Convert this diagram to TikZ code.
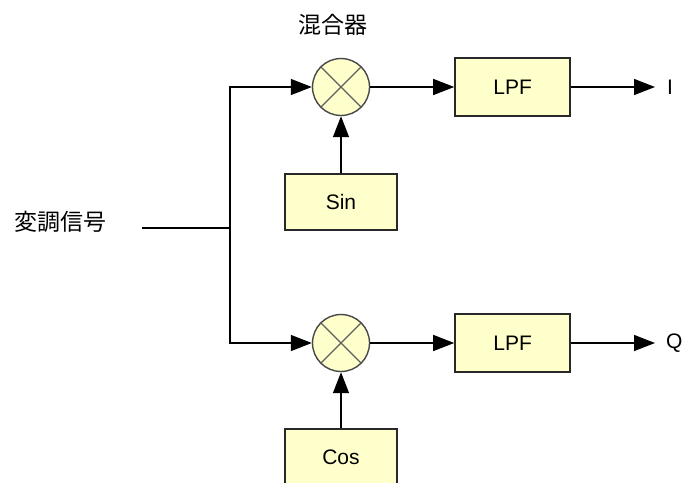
\documentclass[tikz,border=0pt]{standalone}
\usepackage{fontspec}
\setmainfont{Liberation Sans}
\newfontfamily\cjk{Noto Sans CJK JP}
\usepackage{tikz}
\usetikzlibrary{arrows.meta,positioning}
\usepackage{xcolor}
\definecolor{boxfill}{RGB}{255,255,204}
\definecolor{boxline}{RGB}{40,40,40}

\begin{document}
\begin{tikzpicture}[x=1pt, y=-1pt, >={Triangle[length=21pt,width=16pt]},
  blk/.style={draw=boxline, line width=1.8pt, fill=boxfill,
              minimum width=112pt, minimum height=56pt, inner sep=0pt, font=\fontsize{21}{25}\selectfont},
  mixer/.style={circle, draw=boxline!85, line width=1.4pt, fill=boxfill,
                minimum size=57pt, inner sep=0pt},
  outlbl/.style={inner sep=0pt, font=\fontsize{21}{25}\selectfont},
  wire/.style={line width=1.4pt}]
\useasboundingbox (0,0) rectangle (682,482);
% mixers
\node[mixer] (mixA) at (341,87) {};
\node[mixer] (mixB) at (341,343) {};
\foreach \m in {mixA,mixB}{
  \draw[boxline!75, line width=1.2pt] (\m.north west) -- (\m.south east)
                                      (\m.north east) -- (\m.south west);
}
\node[font=\cjk\fontsize{23}{27}\selectfont] (mixlbl) at (333,25) {混合器};
% filters and oscillators
\node[blk, minimum width=115pt, minimum height=58pt, right=84pt of mixA] (lpfA) {LPF};
\node[blk, minimum width=115pt, minimum height=58pt, right=84pt of mixB] (lpfB) {LPF};
\node[blk, below=57pt of mixA] (sin) {Sin};
\node[blk, below=56pt of mixB] (cos) {Cos};
\node[outlbl, right=96pt of lpfA] (outI) {I};
\node[outlbl, right=95pt of lpfB] (outQ) {Q};
% input
\node[font=\cjk\fontsize{23}{27}\selectfont] (sig) at (60,222) {変調信号};
\coordinate (in) at (142,228);
\coordinate (bus) at (230,228);
\draw[wire] (in) -- (bus);
\draw[wire,->] (bus) |- (mixA);
\draw[wire,->] (bus) |- (mixB);
\draw[wire,->] (mixA) -- (lpfA);
\draw[wire,->] (mixB) -- (lpfB);
\draw[wire,->,shorten >=12pt] (lpfA) -- (outI);
\draw[wire,->,shorten >=11pt] (lpfB) -- (outQ);
\draw[wire,->] (sin) -- (mixA);
\draw[wire,->] (cos) -- (mixB);
\end{tikzpicture}
\end{document}
